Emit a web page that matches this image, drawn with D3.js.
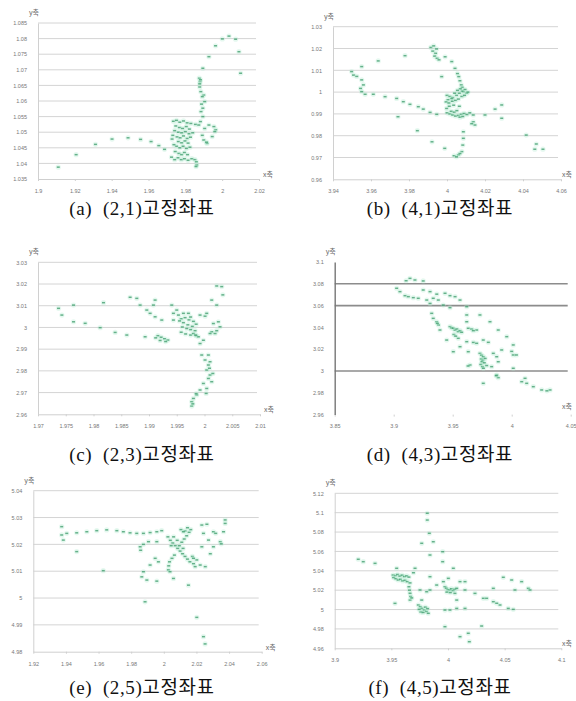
<!DOCTYPE html>
<html>
<head>
<meta charset="utf-8">
<script src="https://cdn.jsdelivr.net/npm/d3@7"></script>
<style>
  body { margin: 0; background: #fff; }
  .tick text { font-family: "Liberation Sans", Arial, sans-serif; }
</style>
</head>
<body>
<svg id="chart" width="576" height="701"></svg>
<script>
// ---- data ----

// (a) (2,1)
var xTicksA = [1.9, 1.92, 1.94, 1.96, 1.98, 2, 2.02];
var yTicksA = [1.035, 1.04, 1.045, 1.05, 1.055, 1.06, 1.065, 1.07, 1.075, 1.08, 1.085];
var ptsA = [
  [1.911,1.0388],[1.9207,1.0428],[1.9312,1.0461],[1.9402,1.0478],[1.9489,1.0482],[1.9557,1.0477],
  [1.9614,1.047],[1.9656,1.0457],[1.9687,1.0445],
  [1.9735,1.0535],[1.9752,1.0538],[1.977,1.0532],[1.979,1.0536],[1.981,1.053],[1.983,1.0528],[1.9855,1.0525],
  [1.9748,1.052],[1.9768,1.0515],[1.9785,1.0512],[1.9805,1.0518],[1.9822,1.051],[1.9742,1.0505],[1.9762,1.05],
  [1.978,1.0498],[1.98,1.0502],[1.982,1.0495],[1.984,1.0498],[1.9732,1.049],[1.9755,1.0485],[1.9772,1.0482],
  [1.979,1.0488],[1.981,1.048],[1.9828,1.0484],[1.9762,1.047],[1.978,1.0466],[1.9798,1.0472],[1.9815,1.0465],
  [1.9752,1.0455],[1.977,1.045],[1.9788,1.0455],[1.9806,1.0448],[1.9825,1.0452],[1.9745,1.0438],[1.9765,1.0432],
  [1.978,1.0428],[1.9795,1.0435],[1.9812,1.0428],[1.976,1.0418],[1.9778,1.0412],[1.9795,1.0415],[1.9815,1.041],
  [1.9835,1.0415],[1.9852,1.0412],[1.986,1.0405],[1.9862,1.0395],[1.9858,1.039],[1.9742,1.0412],[1.9725,1.042],
  [1.9738,1.046],[1.9728,1.0478],
  [1.9873,1.0523],[1.9882,1.0534],[1.9895,1.055],[1.9885,1.0566],[1.9895,1.0577],[1.9905,1.0598],[1.99,1.0619],
  [1.9892,1.0614],[1.9884,1.063],[1.9878,1.0645],[1.988,1.0662],[1.9876,1.0673],[1.9882,1.0668],[1.9895,1.0705],
  [1.9878,1.0655],[1.9888,1.059],
  [1.9928,1.0523],[1.9955,1.0518],[1.9965,1.0508],[1.996,1.0502],[1.9946,1.0486],[1.9918,1.0464],[1.99,1.0475],
  [1.9915,1.0468],[1.9892,1.049],[1.9905,1.0512],
  [1.9928,1.0742],[1.9964,1.0777],[2.0001,1.0799],[2.0037,1.0808],[2.0073,1.0798],[2.0091,1.0758],[2.01,1.0689]
];

// (b) (4,1)
var xTicksB = [3.94, 3.96, 3.98, 4, 4.02, 4.04, 4.06];
var yTicksB = [0.96, 0.97, 0.98, 0.99, 1, 1.01, 1.02, 1.03];
var ptsB = [
  [3.9915,1.0205],[3.993,1.0212],[3.9945,1.0198],[3.9925,1.0188],[3.994,1.0178],[3.9935,1.0165],[3.9948,1.0155],
  [3.9958,1.0148],[3.999,1.0162],
  [4.0025,1.014],[4.0042,1.0109],[4.0055,1.0085],[4.0062,1.0071],[4.0068,1.0052],[4.0075,1.0033],[4.008,1.0022],
  [4.0087,1.0002],[4.0104,0.9995],
  [3.9972,1.0071],[3.9638,1.0143],[3.9779,1.0167],
  [3.9551,1.0117],[3.9498,1.0094],[3.9508,1.0078],[3.9525,1.0072],[3.9551,1.0056],[3.956,1.0033],[3.9545,1.0017],
  [3.9551,1.0002],[3.9569,0.999],
  [3.9612,0.999],[3.9674,0.9979],[3.9735,0.9971],[3.977,0.9956],[3.9805,0.9944],[3.9849,0.9933],[3.9875,0.9922],
  [3.9911,0.9907],[3.9946,0.9898],
  [4.0,0.9985],[4.0015,0.998],[4.003,0.9975],[4.005,0.9985],[4.0065,0.9995],[4.008,1.0005],[4.0095,1.0012],
  [4.011,1.0],[4.007,1.0015],[4.0055,1.0008],[4.004,0.9995],[4.0025,0.997],[4.0005,0.9965],[3.9995,0.9955],
  [4.001,0.995],[4.0028,0.9958],[4.0045,0.9962],[4.006,0.9968],[4.0078,0.998],[4.0092,0.9985],[4.0,0.9905],
  [4.0015,0.99],[4.003,0.9895],[4.0045,0.989],[4.006,0.9893],[4.0075,0.9898],[4.009,0.9902],[4.0105,0.9897],
  [4.012,0.9905],[4.0022,0.9912],[4.0038,0.9908],[4.0068,0.9885],[4.0083,0.9888],[4.0052,0.9915],[3.9998,0.9925],
  [4.0012,0.9935],[4.0035,0.994],[4.0065,0.9935],
  [4.0138,0.9895],[4.0138,0.9864],[4.0147,0.9849],[4.013,0.9855],[4.02,0.9895],[4.0253,0.9922],[4.0288,0.9941],
  [4.0288,0.988],
  [4.0417,0.9803],[4.0462,0.9738],[4.047,0.9762],[4.0505,0.9738],
  [3.9742,0.9887],[3.9844,0.9823],[3.9921,0.9772],[3.9988,0.9742],
  [4.0086,0.9818],[4.0086,0.9788],[4.0083,0.9757],[4.0078,0.9727],[4.006,0.9712],[4.0037,0.9708],[4.005,0.9703],
  [4.0068,0.9718]
];

// (c) (2,3)
var xTicksC = [1.97, 1.975, 1.98, 1.985, 1.99, 1.995, 2, 2.005, 2.01];
var yTicksC = [2.96, 2.97, 2.98, 2.99, 3, 3.01, 3.02, 3.03];
var ptsC = [
  [1.9737,3.0088],[1.9743,3.0057],[1.9764,3.0103],[1.9764,3.0026],[1.9785,3.0019],[1.9812,2.9999],[1.9818,3.0114],
  [1.9839,2.9977],[1.986,2.9965],[1.9866,3.0139],[1.9878,3.0134],[1.9884,3.0103],[1.9896,3.008],[1.9902,3.0065],
  [1.9908,3.0103],[1.9911,3.0126],[1.9893,2.9957],[1.9911,3.0049],[1.9923,3.0034],
  [1.9941,3.0103],[1.9944,3.0065],[1.995,3.008],[1.9944,3.0034],[1.9953,3.0057],[1.9962,3.0065],[1.9971,3.0065],
  [1.9958,3.004],[1.9965,3.0045],[1.9972,3.0035],[1.998,3.0028],[1.9962,3.0022],[1.997,3.0012],[1.9978,3.0005],
  [1.9985,3.0015],[1.996,3.0002],[1.9968,2.9995],[1.9975,2.999],[1.9983,2.9985],[1.9958,2.9978],[1.9966,2.997],
  [1.9975,2.9965],[1.9985,2.9962],[1.9955,3.003],[1.9975,3.0048],
  [1.9916,2.9962],[1.9922,2.9955],[1.9928,2.9948],[1.9934,2.9942],[1.992,2.994],[1.993,2.9935],[1.9912,2.9952],
  [1.9992,3.0057],[2.0001,3.0052],[2.0004,3.0065],
  [2.0016,3.0018],[2.0025,3.0026],[2.0013,2.998],[2.001,2.9972],[2.0019,2.9972],[2.0022,2.9985],
  [1.998,2.9972],[1.9989,2.9957],[1.9998,2.9941],[1.9992,2.9926],[1.9984,2.9965],
  [2.0022,3.0191],[2.0031,3.0188],[2.0033,3.015],[2.0013,3.0126],[2.0022,3.0103],[2.0028,3.0003],
  [1.9995,2.9873],[2.0001,2.985],[2.0007,2.9827],[2.0004,2.9804],[2.001,2.9781],[2.0007,2.9765],[1.9998,2.9742],
  [2.0013,2.975],[2.0004,2.9719],[1.9992,2.9712],[1.9986,2.9689],[1.998,2.9673],[1.9977,2.9658],[1.9977,2.9638],
  [1.9979,2.9648],[1.9985,2.9695],[2.0003,2.9696],[2.0009,2.9812],[2.001,2.9842],[2.0015,2.9788],[2.0007,2.9873]
];

// (d) (4,3)
var xTicksD = [3.85, 3.9, 3.95, 4, 4.05];
var yTicksD = [2.96, 2.98, 3, 3.02, 3.04, 3.06, 3.08, 3.1];
var gridD = [3, 3.06, 3.08];
var ptsD = [
  [3.9138,3.085],[3.918,3.0835],[3.9105,3.0828],[3.925,3.0826],
  [3.9025,3.0759],[3.9053,3.0728],[3.9096,3.0691],[3.9124,3.0682],[3.9166,3.0673],[3.9208,3.0667],[3.925,3.0743],
  [3.9308,3.0728],[3.928,3.0651],[3.9335,3.0667],[3.9378,3.0651],[3.9365,3.0705],[3.9435,3.0713],[3.9477,3.0691],
  [3.952,3.0682],[3.9562,3.0651],[3.942,3.0605],[3.9477,3.0581],[3.9619,3.059],[3.9308,3.062],
  [3.9322,3.0529],[3.9335,3.0483],[3.9364,3.0452],[3.938,3.0422],[3.9392,3.0376],[3.937,3.0437],
  [3.9477,3.0407],[3.9492,3.0395],[3.9505,3.0392],[3.952,3.0375],[3.9535,3.0385],[3.9547,3.0361],[3.9562,3.037],
  [3.9576,3.0355],[3.9547,3.03],[3.951,3.0335],[3.9525,3.032],
  [3.9619,3.0452],[3.9632,3.0392],[3.9661,3.0385],[3.9703,3.0376],[3.9675,3.037],
  [3.9619,3.0514],[3.9731,3.0514],[3.9816,3.0452],[3.9886,3.0376],[3.9958,3.0315],[4.0013,3.0239],[3.9759,3.0284],
  [3.9802,3.0263],[3.9619,3.0269],[3.9675,3.0262],[3.9703,3.0254],[3.9562,3.0223],[3.9505,3.0177],[3.9632,3.0177],
  [3.9449,3.0284],
  [3.9731,3.0162],[3.9745,3.0145],[3.9759,3.0131],[3.9742,3.011],[3.9755,3.0098],[3.9748,3.0085],[3.9768,3.0075],
  [3.9738,3.006],[3.9752,3.004],[3.976,3.0025],[3.9775,3.0115],[3.9788,3.005],
  [3.9873,3.0131],[3.9844,3.0162],[3.9915,3.0193],[4.0013,3.0147],[4.004,3.0147],[4.0,3.018],[3.9647,3.0055],
  [3.983,3.004],[3.9886,3.0085],[3.963,3.0046],
  [3.9873,2.9963],[3.9886,2.9939],[3.9759,2.9887],[4.0013,3.0025],[4.0113,2.9933],[4.0085,2.9902],[4.0127,2.9887],
  [4.0183,2.9856],[4.0254,2.9826],[4.0325,2.9826],[4.0298,2.9818],[3.9869,2.9957]
];

// (e) (2,5)
var xTicksE = [1.92, 1.94, 1.96, 1.98, 2, 2.02, 2.04, 2.06];
var yTicksE = [4.98, 4.99, 5, 5.01, 5.02, 5.03, 5.04];
var ptsE = [
  [1.9374,5.0266],[1.9374,5.0235],[1.9384,5.0216],[1.9405,5.0241],[1.9466,5.0243],[1.9466,5.0173],[1.9528,5.0247],
  [1.9589,5.0251],[1.965,5.0254],[1.9712,5.0251],[1.9752,5.0247],[1.9793,5.0243],[1.9834,5.0241],[1.9875,5.0241],
  [1.9916,5.0244],[1.9957,5.0247],[1.9987,5.0251],
  [1.9629,5.0102],[1.9855,5.0191],[1.9858,5.0178],[1.9875,5.02],[1.9906,5.021],[1.9957,5.021],
  [1.9875,5.0098],[1.9865,5.0079],[1.9896,5.0067],[1.9957,5.0063],[1.9885,4.9986],[1.9916,5.0123],[1.9947,5.0148],
  [1.9967,5.0135],
  [2.0025,5.0228],[2.004,5.0215],[2.0055,5.0205],[2.007,5.0195],[2.0085,5.0185],[2.01,5.0175],[2.0115,5.0165],
  [2.013,5.0155],[2.0145,5.0145],[2.016,5.0135],[2.0035,5.0135],[2.005,5.0148],[2.0065,5.016],[2.0095,5.0195],
  [2.011,5.0208],[2.0125,5.022],[2.014,5.0232],[2.0155,5.0245],[2.0165,5.0255],[2.013,5.025],[2.0145,5.0262],
  [2.006,5.0228],[2.0045,5.0195],[2.0082,5.0215],[2.0118,5.0185],[2.0175,5.0155],[2.0182,5.0128],[2.0028,5.0105],
  [2.003,5.012],[2.0038,5.0098],[2.0105,5.0255],[2.012,5.0247],
  [2.0059,5.0073],[2.0151,5.0048],
  [2.0192,5.0117],[2.0223,5.0123],[2.0254,5.0117],[2.0202,5.0142],[2.0182,5.0148],
  [2.0233,5.0272],[2.0264,5.0275],[2.0243,5.0241],[2.0274,5.0216],[2.0233,5.0191],[2.0304,5.0247],[2.0318,5.0241],
  [2.0346,5.021],[2.0352,5.0202],[2.0376,5.0291],[2.0376,5.0278],[2.0366,5.0247],[2.0304,5.0191],[2.0285,5.0165],
  [2.0202,4.9928],[2.0243,4.9856],[2.0253,4.9829]
];

// (f) (4,5)
var xTicksF = [3.9, 3.95, 4, 4.05, 4.1];
var yTicksF = [4.96, 4.98, 5, 5.02, 5.04, 5.06, 5.08, 5.1, 5.12];
var ptsF = [
  [3.9817,5.0994],[3.9817,5.0924],[3.9835,5.0787],[3.987,5.07],[3.9768,5.0684],[3.9841,5.0563],[3.9953,5.0597],
  [3.9953,5.0494],[4.0047,5.0426],
  [3.9208,5.0519],[3.9252,5.0494],[3.9356,5.0477],
  [3.9515,5.0356],[3.9535,5.035],[3.9555,5.0362],[3.9575,5.0345],[3.9595,5.0355],[3.9615,5.034],[3.9635,5.0348],
  [3.9655,5.0335],[3.952,5.033],[3.954,5.0318],[3.956,5.0305],[3.958,5.0312],[3.96,5.0296],[3.962,5.0302],
  [3.964,5.0288],[3.9665,5.0275],[3.9547,5.0426],[3.9709,5.0426],[3.9695,5.038],[3.9655,5.0235],[3.966,5.02],
  [3.9665,5.0168],[3.967,5.0135],[3.9665,5.0098],[3.968,5.012],
  [3.9738,5.0047],[3.9755,5.003],[3.977,5.0012],[3.979,4.9995],[3.981,4.998],[3.9826,4.9961],[3.976,4.9975],
  [3.978,4.997],[3.9745,5.0002],[3.98,5.0025],[3.982,5.001],
  [3.9532,5.0064],[3.9753,5.0202],[3.9812,5.0184],[3.9768,5.0098],[3.9841,5.0339],[3.9841,5.0202],[3.99,5.0253],
  [3.9959,5.0288],[3.9973,5.0236],[3.9985,5.022],[4.0,5.0205],[4.0017,5.0202],[4.003,5.0215],[4.0045,5.0195],
  [4.006,5.021],[4.0077,5.0219],[4.0061,5.0167],[4.0106,5.0288],[4.0003,5.0322],[3.999,5.018],[4.002,5.0175],
  [4.0077,5.0098],[4.015,5.0288],[4.015,5.0202],[4.0238,5.0167],[4.0312,5.0116],
  [3.9973,4.9995],[4.0017,4.9995],[4.0077,5.0012],[4.015,5.0012],
  [3.9973,4.9823],[4.0106,4.972],[4.0179,4.9755],[4.0188,4.9668],[4.0297,4.983],
  [4.04,5.0219],[4.0488,5.0333],[4.0562,5.0305],[4.065,5.0288],[4.0591,5.0202],[4.0709,5.0219],[4.0724,5.0202],
  [4.04,5.0081],[4.0459,5.0047],[4.0532,5.0012],[4.0576,5.0002],[4.0341,5.0116],[4.0430,5.0065]
];

var captions = ["(a)  (2,1)고정좌표", "(b)  (4,1)고정좌표", "(c)  (2,3)고정좌표",
                "(d)  (4,3)고정좌표", "(e)  (2,5)고정좌표", "(f)  (4,5)고정좌표"];

// ---- layout of the 2x3 grid of panels ----
var panels = [
  {pts: ptsA, xt: xTicksA, yt: yTicksA, grid: yTicksA.slice(1), xr: [38, 259], yr: [179, 23], cx: 142, cy: 215},
  {pts: ptsB, xt: xTicksB, yt: yTicksB, grid: yTicksB.slice(1), xr: [333, 561], yr: [179.3, 26.7], cx: 440, cy: 215},
  {pts: ptsC, xt: xTicksC, yt: yTicksC, grid: yTicksC.slice(1), xr: [38, 260], yr: [414.3, 262.3], cx: 142, cy: 461},
  {pts: ptsD, xt: xTicksD, yt: yTicksD, grid: gridD, dark: true, xr: [334.7, 570.7], yr: [414.6, 262], cx: 440, cy: 461},
  {pts: ptsE, xt: xTicksE, yt: yTicksE, grid: yTicksE.slice(1), xr: [33.3, 261.7], yr: [651.7, 490.7], cx: 142, cy: 694},
  {pts: ptsF, xt: xTicksF, yt: yTicksF, grid: yTicksF.slice(1), xr: [334.7, 561.3], yr: [648.3, 493.3], cx: 440, cy: 694}
];

var svg = d3.select("#chart");
var fmt = d3.format("~g");

panels.forEach(function(p, i){
  var x = d3.scaleLinear().domain(d3.extent(p.xt)).range(p.xr);
  var y = d3.scaleLinear().domain(d3.extent(p.yt)).range(p.yr);
  var g = svg.append("g");
  var gridColor = p.dark ? "#8c8c8c" : "#d4d4d4";

  // horizontal gridlines
  g.append("g").selectAll("line")
    .data(p.grid)
    .enter().append("line")
      .attr("x1", p.xr[0]).attr("x2", p.xr[1] - 3)
      .attr("y1", function(d){ return y(d); })
      .attr("y2", function(d){ return y(d); })
      .attr("stroke", gridColor)
      .attr("stroke-width", p.dark ? 1.6 : 1);

  // x axis
  var xAxis = g.append("g")
    .attr("transform", "translate(0," + p.yr[0] + ")")
    .call(d3.axisBottom(x).tickValues(p.xt).tickFormat(fmt).tickSize(2).tickSizeOuter(0).tickPadding(8));
  xAxis.select(".domain").attr("stroke", p.dark ? "#ffffff" : "#cfcfcf");
  xAxis.selectAll(".tick line").attr("stroke", "#cfcfcf");
  xAxis.selectAll("text").attr("font-size", 5.5).attr("fill", "#777");

  // y axis
  var yAxis = g.append("g")
    .attr("transform", "translate(" + p.xr[0] + ",0)")
    .call(d3.axisLeft(y).tickValues(p.yt).tickFormat(fmt).tickSize(0).tickSizeOuter(0).tickPadding(11));
  yAxis.select(".domain").attr("stroke", p.dark ? "#777" : "#d0d0d0").attr("stroke-width", p.dark ? 1.4 : 1);
  yAxis.selectAll("text").attr("font-size", 5.5).attr("fill", "#777");

  // axis names
  g.append("text")
    .attr("x", p.xr[0] - 4).attr("y", p.yr[1] - 8)
    .attr("text-anchor", "middle")
    .attr("font-family", "'Noto Sans CJK KR', sans-serif")
    .attr("font-size", 7).attr("fill", "#666")
    .text("y축");
  g.append("text")
    .attr("x", Math.min(p.xr[1] + 9, 567)).attr("y", p.yr[0] - (p.dark ? 6 : 2))
    .attr("text-anchor", "middle")
    .attr("font-family", "'Noto Sans CJK KR', sans-serif")
    .attr("font-size", 7).attr("fill", "#666")
    .text("x축");

  // points: faint halo + small dash marker
  var mk = g.append("g").selectAll("g")
    .data(p.pts)
    .enter().append("g")
      .attr("transform", function(d){ return "translate(" + x(d[0]) + "," + y(d[1]) + ")"; });
  mk.append("circle").attr("r", 2.6).attr("fill", "#b4ecd0").attr("opacity", 0.35);
  mk.append("rect")
    .attr("x", -1.5).attr("y", -0.75).attr("width", 3).attr("height", 1.5)
    .attr("fill", "#3a9a68").attr("opacity", 0.75);

  // caption
  svg.append("text")
    .attr("x", p.cx).attr("y", p.cy)
    .attr("text-anchor", "middle")
    .attr("font-family", "'Liberation Serif', 'Noto Sans CJK KR', serif")
    .attr("font-size", 19).attr("letter-spacing", 0.6).attr("fill", "#111")
    .attr("xml:space", "preserve")
    .text(captions[i]);
});
</script>
</body>
</html>
